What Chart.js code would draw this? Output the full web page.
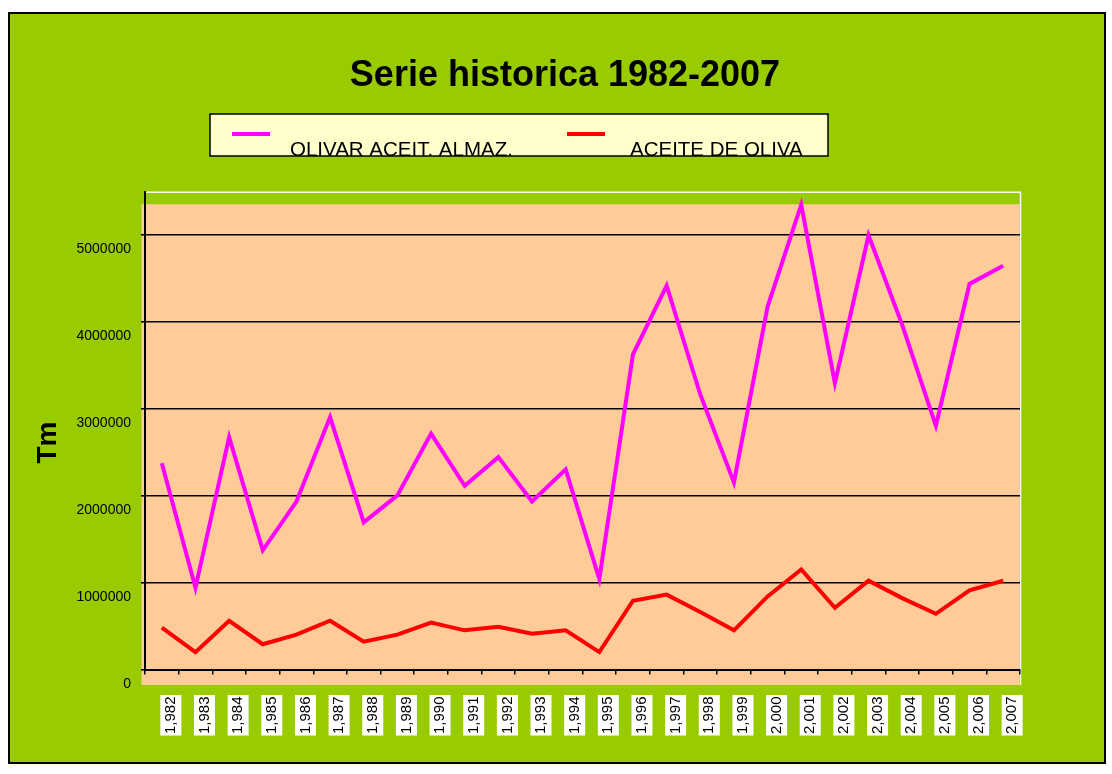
<!DOCTYPE html>
<html>
<head>
<meta charset="utf-8">
<script src="https://cdn.jsdelivr.net/npm/chart.js@4.4.1/dist/chart.umd.min.js"></script>
<style>
  html, body { margin: 0; padding: 0; background: #ffffff; }
  #wrap { width: 1112px; height: 774px; position: relative; }
</style>
</head>
<body>
<div id="wrap"><canvas id="c" width="1112" height="774"></canvas></div>
<script>
const years = ['1,982','1,983','1,984','1,985','1,986','1,987','1,988','1,989','1,990','1,991','1,992','1,993','1,994','1,995','1,996','1,997','1,998','1,999','2,000','2,001','2,002','2,003','2,004','2,005','2,006','2,007'];
const olivar = [2370000, 940000, 2670000, 1370000, 1930000, 2900000, 1690000, 2000000, 2710000, 2110000, 2440000, 1930000, 2300000, 1040000, 3620000, 4410000, 3160000, 2150000, 4170000, 5340000, 3290000, 4990000, 3960000, 2800000, 4430000, 4640000];
const aceite = [480000, 200000, 560000, 290000, 400000, 560000, 320000, 400000, 540000, 450000, 490000, 410000, 450000, 200000, 790000, 860000, 660000, 450000, 840000, 1150000, 710000, 1020000, 820000, 640000, 910000, 1020000];
const yTicks = [0, 1000000, 2000000, 3000000, 4000000, 5000000];
const seriesNames = ['OLIVAR ACEIT. ALMAZ.', 'ACEITE DE OLIVA'];
const titleText = 'Serie historica 1982-2007';
const yTitle = 'Tm';

const FONT = "'Liberation Sans', Arial, sans-serif";

const decor = {
  id: 'decor',
  afterLayout(chart) {
    const t = chart.titleBlock;
    if (t) {
      const dx = 565 - (t.left + t.right) / 2;
      t.left += dx; t.right += dx;
    }
  },
  beforeDraw(chart) {
    const ctx = chart.ctx;
    const a = chart.chartArea;
    ctx.save();
    ctx.fillStyle = '#ffffff';
    ctx.fillRect(0, 0, chart.width, chart.height);
    ctx.fillStyle = '#99CC00';
    ctx.fillRect(8, 12, 1098, 752);
    ctx.strokeStyle = '#000000';
    ctx.lineWidth = 2;
    ctx.strokeRect(9, 13, 1096, 750);
    // plot background
    ctx.fillStyle = '#FFCC99';
    ctx.fillRect(a.left - 3.5, a.top + 12, a.right - a.left + 3, a.bottom - a.top + 3.5);
    // light frame (top and right)
    ctx.strokeStyle = '#FFFFE0';
    ctx.lineWidth = 1.5;
    ctx.beginPath();
    ctx.moveTo(a.left, a.top);
    ctx.lineTo(a.right + 0.5, a.top);
    ctx.lineTo(a.right + 0.5, a.bottom + 15.5);
    ctx.stroke();
    ctx.restore();
  },
  afterDraw(chart) {
    const ctx = chart.ctx;
    ctx.save();
    const bx = 210, by = 114, bw = 618, bh = 42;
    ctx.fillStyle = '#FFFFCC';
    ctx.fillRect(bx, by, bw, bh);
    const items = [
      {x: 232, tx: 290},
      {x: 567, tx: 630}
    ];
    chart.data.datasets.forEach((ds, i) => {
      const it = items[i];
      ctx.strokeStyle = ds.borderColor;
      ctx.lineWidth = 4;
      ctx.beginPath();
      ctx.moveTo(it.x, 134);
      ctx.lineTo(it.x + 38, 134);
      ctx.stroke();
      ctx.fillStyle = '#000000';
      ctx.font = '20.5px ' + FONT;
      ctx.textBaseline = 'alphabetic';
      ctx.textAlign = 'left';
      ctx.fillText(ds.label, it.tx, 156);
    });
    ctx.strokeStyle = '#000000';
    ctx.lineWidth = 1.5;
    ctx.strokeRect(bx, by, bw, bh);
    ctx.restore();
  }
};

new Chart(document.getElementById('c'), {
  type: 'line',
  data: {
    labels: years,
    datasets: [
      { label: seriesNames[0], data: olivar, borderColor: '#FF00FF', backgroundColor: '#FF00FF', borderWidth: 4, pointRadius: 0, tension: 0, fill: false },
      { label: seriesNames[1], data: aceite, borderColor: '#FF0000', backgroundColor: '#FF0000', borderWidth: 4, pointRadius: 0, tension: 0, fill: false }
    ]
  },
  options: {
    responsive: false,
    animation: false,
    devicePixelRatio: 1,
    layout: { padding: { top: 0, left: 20, right: 92, bottom: 0 } },
    plugins: {
      legend: { display: false },
      tooltip: { enabled: false },
      title: {
        display: true,
        text: titleText,
        color: '#000000',
        font: { family: FONT, size: 36, weight: 'bold', lineHeight: 1.2 },
        padding: { top: 54, bottom: 95 }
      }
    },
    scales: {
      x: {
        type: 'category',
        offset: true,
        afterFit(scale) { scale.height = 104.5; },
        border: { display: true, color: '#000000', width: 2 },
        grid: { display: true, drawOnChartArea: false, drawTicks: true, tickLength: 5, color: '#000000', lineWidth: 1.5, offset: true },
        ticks: {
          autoSkip: false,
          maxRotation: 90,
          minRotation: 90,
          padding: 22,
          color: '#000000',
          font: { family: FONT, size: 15 },
          showLabelBackdrop: true,
          backdropColor: '#FFFFFF',
          backdropPadding: 1.5
        }
      },
      y: {
        type: 'linear',
        min: 0,
        max: 5484000,
        bounds: 'data',
        afterFit(scale) { scale.width = 125; },
        afterBuildTicks(scale) { scale.ticks = yTicks.map(v => ({ value: v })); },
        border: { display: true, color: '#000000', width: 2 },
        grid: { display: true, drawOnChartArea: true, drawTicks: true, tickLength: 4, color: '#000000', lineWidth: 1.6 },
        title: {
          display: true,
          text: yTitle + '   ',
          color: '#000000',
          font: { family: FONT, size: 28, weight: 'bold', lineHeight: 1.2 },
          padding: { top: 11, bottom: 12 }
        },
        ticks: {
          padding: 10,
          labelOffset: 15,
          color: '#000000',
          font: { family: FONT, size: 14 },
          callback: (v) => String(v)
        }
      }
    }
  },
  plugins: [decor]
});
</script>
</body>
</html>
